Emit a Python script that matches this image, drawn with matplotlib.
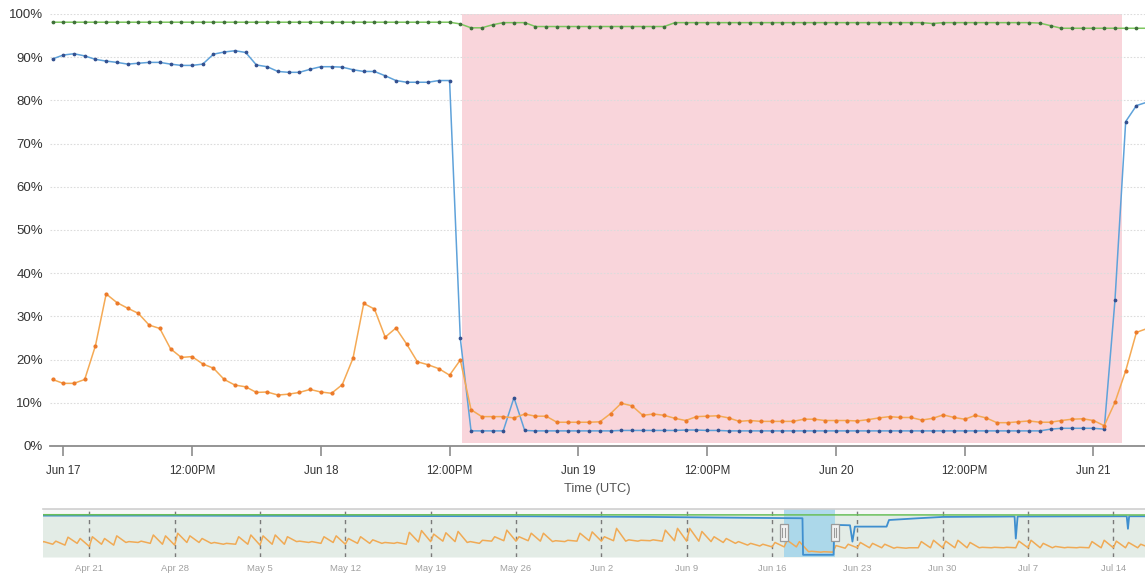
import numpy as np
import matplotlib.pyplot as plt
import matplotlib.dates as mdates
from matplotlib.patches import Rectangle
from matplotlib.transforms import blended_transform_factory

plt.rcParams['font.family'] = ['Liberation Sans', 'DejaVu Sans']

###########################################################################
# Main chart: hourly samples, first one at 2021-06-16 23:00 UTC
start_time = np.datetime64('2021-06-16T23:00')

blue_pct = [89.6, 90.5, 90.8, 90.3, 89.5, 89.1, 88.8, 88.4, 88.6, 88.8,
            88.8, 88.4, 88.1, 88.1, 88.4, 90.7, 91.2, 91.5, 91.1, 88.2,
            87.8, 86.7, 86.5, 86.5, 87.2, 87.8, 87.8, 87.7, 87.1, 86.7,
            86.7, 85.7, 84.6, 84.2, 84.2, 84.2, 84.6, 84.6, 24.9,
            3.5, 3.5, 3.5, 3.5, 11.2,
            3.6, 3.5, 3.5, 3.5, 3.5, 3.5, 3.5,
            3.5, 3.5, 3.6, 3.6, 3.6, 3.6, 3.6, 3.6, 3.7, 3.7,
            3.6, 3.6, 3.5, 3.5, 3.5, 3.5, 3.5, 3.5, 3.5, 3.5,
            3.5, 3.5, 3.5, 3.5, 3.5, 3.5, 3.5, 3.5, 3.5, 3.5,
            3.5, 3.5, 3.5, 3.5, 3.5, 3.5, 3.5, 3.5, 3.5, 3.5,
            3.5, 3.5, 3.9, 4.1, 4.1, 4.1, 4.1, 3.9,
            33.7, 75.1, 78.8, 79.6]

orange_pct = [15.4, 14.5, 14.5, 15.4, 23.2, 35.2, 33.2, 31.9, 30.7, 28.0,
              27.2, 22.5, 20.5, 20.7, 19.0, 18.0, 15.4, 14.1, 13.7, 12.4,
              12.5, 11.8, 12.0, 12.4, 13.1, 12.5, 12.2, 14.2, 20.3, 33.0,
              31.7, 25.2, 27.3, 23.6, 19.5, 18.8, 17.9, 16.4, 19.9,
              8.4, 6.8, 6.8, 6.8, 6.5, 7.4, 6.9, 6.9, 5.5, 5.5,
              5.5, 5.5, 5.6, 7.5, 9.9, 9.3, 7.1, 7.4, 7.1, 6.4,
              5.9, 6.8, 6.9, 7.0, 6.5, 5.7, 5.9, 5.7, 5.7, 5.7, 5.7,
              6.2, 6.2, 5.9, 5.9, 5.9,
              5.8, 6.1, 6.5, 6.8, 6.6, 6.6, 6.0, 6.4, 7.2, 6.6,
              6.2, 7.1, 6.5, 5.4, 5.4, 5.6, 5.8, 5.5, 5.5, 5.9,
              6.2, 6.3, 5.9, 4.7, 10.1, 17.4, 26.3, 27.2]

green_pct = [98.1, 98.1, 98.1, 98.1, 98.1, 98.1, 98.1, 98.1, 98.1, 98.1,
             98.1, 98.1, 98.1, 98.1, 98.1, 98.1, 98.1, 98.1, 98.1, 98.1,
             98.1, 98.1, 98.1, 98.1, 98.1, 98.1, 98.1, 98.1, 98.1, 98.1,
             98.1, 98.1, 98.1, 98.1, 98.1, 98.1, 98.1, 98.1,
             97.7, 96.8, 96.8, 97.5, 98.0, 98.0, 98.0,
             97.1, 97.1, 97.1, 97.1, 97.1, 97.1, 97.1, 97.1, 97.1, 97.1,
             97.1, 97.1, 97.1,
             98.0, 98.0, 98.0, 98.0, 98.0, 98.0, 98.0, 98.0, 98.0, 98.0,
             98.0, 98.0, 98.0, 98.0, 98.0, 98.0, 98.0, 98.0, 98.0, 98.0,
             98.0, 98.0, 98.0, 98.0, 97.8,
             98.0, 98.0, 98.0, 98.0, 98.0, 98.0, 98.0, 98.0, 98.0,
             97.9, 97.3,
             96.7, 96.7, 96.7, 96.7, 96.7, 96.7, 96.7, 96.7, 96.7]

outage_start = np.datetime64('2021-06-18T13:09')
outage_end = np.datetime64('2021-06-21T02:42')

main_xmin = np.datetime64('2021-06-16T22:46')
main_xmax = np.datetime64('2021-06-21T04:48')

main_tick_times = ['2021-06-17T00:00', '2021-06-17T12:00', '2021-06-18T00:00',
                   '2021-06-18T12:00', '2021-06-19T00:00', '2021-06-19T12:00',
                   '2021-06-20T00:00', '2021-06-20T12:00', '2021-06-21T00:00']
main_tick_labels = ['Jun 17', '12:00PM', 'Jun 18', '12:00PM', 'Jun 19',
                    '12:00PM', 'Jun 20', '12:00PM', 'Jun 21']
y_ticks = [0, 10, 20, 30, 40, 50, 60, 70, 80, 90, 100]
y_tick_labels = ['0%', '10%', '20%', '30%', '40%', '50%', '60%', '70%',
                 '80%', '90%', '100%']

###########################################################################
# Navigator (overview strip), values in navigator height units (0-100)
nav_start = np.datetime64('2021-04-17T00:00')
# one low (at midnight) and one peak (around 06:00) per day
nav_orange_low = [31, 29, 27, 31, 24, 29, 27, 33, 33, 31,
                  29, 27, 33, 33, 31, 29, 29, 29, 27, 29,
                  29, 35, 33, 31, 33, 29, 31, 31, 31, 31,
                  29, 34, 35, 36, 35, 33, 31, 36, 37, 36,
                  37, 36, 35, 35, 36, 37, 36, 37, 36, 36,
                  37, 36, 37, 36, 36, 35, 33, 31, 27, 25,
                  23, 23, 23, 12, 11, 11, 20, 21, 21, 21,
                  20, 20, 21, 21, 21, 21, 21, 21, 21, 21,
                  21, 21, 21, 21, 21, 21, 21, 21, 21, 21, 21, 21]
nav_orange_peak = [35, 36, 45, 42, 46, 42, 48, 35, 36, 50,
                   48, 54, 48, 42, 33, 31, 46, 50, 48, 50,
                   46, 36, 35, 46, 48, 42, 46, 39, 33, 33,
                   56, 60, 52, 55, 58, 35, 38, 46, 61, 46,
                   54, 54, 37, 38, 54, 57, 46, 65, 39, 38,
                   39, 61, 65, 65, 58, 46, 42, 35, 31, 29,
                   33, 38, 35, 13, 12, 26, 29, 33, 31, 29,
                   22, 21, 35, 38, 36, 38, 33, 22, 22, 22,
                   36, 38, 31, 24, 22, 22, 35, 38, 36, 33, 29, 28]

nav_blue_days = [0, 10, 20, 30, 40, 50, 58, 62.5, 62.55, 65.05, 65.12,
                 66.4, 66.6, 66.8, 69.4, 69.6, 72, 74, 79.9, 80.0, 80.15,
                 89.1, 89.2, 89.3, 92]
nav_blue_vals = [94, 94, 93.5, 93, 92.5, 91, 89, 88, 5, 5, 73,
                 72, 35, 69, 69, 84, 88, 91, 92, 42, 92,
                 92.5, 64, 92.5, 92.5]
nav_green_days = [0, 62.5, 65.1, 92]
nav_green_vals = [96, 95.6, 95.6, 95.4]

nav_xmin_days = 0.2
nav_xmax_days = 90.6
nav_tick_days = [4, 11, 18, 25, 32, 39, 46, 53, 60, 67, 74, 81, 88]
nav_tick_labels = ['Apr 21', 'Apr 28', 'May 5', 'May 12', 'May 19', 'May 26',
                   'Jun 2', 'Jun 9', 'Jun 16', 'Jun 23', 'Jun 30', 'Jul 7',
                   'Jul 14']

###########################################################################
W, H = 1145, 576
fig = plt.figure(figsize=(W / 100, H / 100), dpi=100)

# [left, bottom, width, height]
ax = fig.add_axes([50 / W, 130 / H, (W - 50) / W, 432 / H])

hours = np.timedelta64(1, 'h')
t_main = start_time + np.arange(len(blue_pct)) * hours

ax.axvspan(outage_start, outage_end, ymin=0.006, ymax=1.0,
           color='#f9d5db', lw=0, zorder=0.2)

ax.plot(t_main, blue_pct, color='#5fa2da', lw=1.1, marker='o', ms=1.7,
        mfc='#34508f', mec='#34508f', zorder=3)
ax.plot(t_main, orange_pct, color='#f5aa55', lw=1.1, marker='o', ms=2.0,
        mfc='#ec7a2a', mec='#ec7a2a', zorder=3)
ax.plot(t_main, green_pct, color='#7cc75e', lw=1.1, marker='o', ms=1.7,
        mfc='#3f6f3a', mec='#3f6f3a', zorder=3)

ax.set_xlim(main_xmin, main_xmax)
ax.set_ylim(0, 100)
ax.set_yticks(y_ticks)
ax.set_yticklabels(y_tick_labels)
ax.set_xticks([np.datetime64(t) for t in main_tick_times])
ax.set_xticklabels(main_tick_labels)

ax.set_axisbelow(True)
ax.grid(axis='y', color='#dcdcdc', lw=0.8, ls=(0, (1.5, 1.5)))
for side in ['top', 'right', 'left']:
    ax.spines[side].set_visible(False)
ax.spines['bottom'].set_color('#8c8c8c')
ax.spines['bottom'].set_linewidth(1.3)

ax.tick_params(axis='y', length=0, pad=5, labelsize=9.5, labelcolor='#333333')
ax.tick_params(axis='x', length=7, width=1.2, color='#8c8c8c', pad=7,
               labelsize=8.3, labelcolor='#333333')
ax.set_xlabel('Time (UTC)', fontsize=9.3, color='#555555', labelpad=4)

###########################################################################
# Navigator strip
nav = fig.add_axes([43 / W, 19 / H, (W - 43) / W, 48 / H])
nav.set_facecolor('#f6f7f7')
day = np.timedelta64(1, 'D')
six_h = np.timedelta64(6, 'h')

t_low = nav_start + np.arange(len(nav_orange_low)) * day
t_peak = t_low + six_h
t_orange = np.empty(2 * len(t_low), dtype=t_low.dtype)
t_orange[0::2] = t_low
t_orange[1::2] = t_peak
v_orange = np.empty(2 * len(t_low))
v_orange[0::2] = nav_orange_low
v_orange[1::2] = nav_orange_peak

t_blue = nav_start + (np.array(nav_blue_days) * 24 * 60).astype(int) * np.timedelta64(1, 'm')
t_green = nav_start + (np.array(nav_green_days) * 24 * 60).astype(int) * np.timedelta64(1, 'm')

nav.fill_between(t_green, nav_green_vals, 0, color='#e3ece6', lw=0, zorder=0.5)
for d in nav_tick_days:
    nav.axvline(nav_start + d * day, color='#7a7a7a', lw=1.0, ls=(0, (3, 3)), zorder=1)
nav.plot(t_orange, v_orange, color='#f0aa55', lw=1.1, zorder=2)
nav.plot(t_blue, nav_blue_vals, color='#3f8fcf', lw=1.3, zorder=3)
nav.plot(t_green, nav_green_vals, color='#69bf5a', lw=1.1, zorder=4)

nav_xmin = nav_start + int(nav_xmin_days * 24 * 60) * np.timedelta64(1, 'm')
nav_xmax = nav_start + int(nav_xmax_days * 24 * 60) * np.timedelta64(1, 'm')
nav.set_xlim(nav_xmin, nav_xmax)
nav.set_ylim(0, 109)

# selected window = main chart range
nav.axvspan(main_xmin, main_xmax, color='#9fd3ec', alpha=0.8, lw=0, zorder=1.5)
trans = blended_transform_factory(nav.transData, nav.transAxes)
hw = 0.33
for edge in [main_xmin, main_xmax]:
    xc = mdates.date2num(edge)
    nav.add_patch(Rectangle((xc - hw, 0.33), 2 * hw, 0.36, transform=trans,
                            facecolor='#f2f2f2', edgecolor='#9a9a9a', lw=0.9,
                            zorder=6, clip_on=False))
    for dx in [-0.09, 0.09]:
        nav.plot([xc + dx, xc + dx], [0.42, 0.6], transform=trans,
                 color='#9a9a9a', lw=0.8, zorder=7, clip_on=False)

nav.set_yticks([])
nav.set_xticks([nav_start + d * day for d in nav_tick_days])
nav.set_xticklabels(nav_tick_labels)
nav.tick_params(axis='x', length=0, pad=5, labelsize=6.8, labelcolor='#a0a0a0')
for side in ['right', 'left', 'bottom']:
    nav.spines[side].set_visible(False)
nav.spines['top'].set_color('#cfcfcf')
nav.spines['top'].set_linewidth(1.2)

fig.savefig('out.png', dpi=100)
